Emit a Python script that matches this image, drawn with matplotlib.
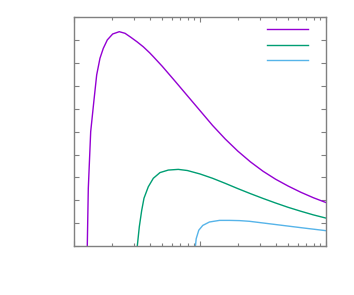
import matplotlib
matplotlib.use("Agg")
import matplotlib.pyplot as plt
from matplotlib.lines import Line2D
from matplotlib.ticker import LogLocator, NullFormatter, MultipleLocator

# Series (log x axis, 1..100; y 0..10)
x_purple = [1.275, 1.299, 1.357, 1.441, 1.514, 1.608, 1.708, 1.838, 2.028, 2.288,
            2.540, 2.818, 3.162, 3.548, 3.981, 4.260, 5.012, 6.310, 7.943, 10.0,
            12.59, 15.85, 19.95, 25.12, 31.62, 39.81, 50.12, 63.10, 79.43, 100.0]
y_purple = [0.0, 2.52, 5.0, 6.38, 7.48, 8.21, 8.64, 9.01, 9.27, 9.37,
            9.30, 9.13, 8.93, 8.71, 8.45, 8.28, 7.86, 7.22, 6.57, 5.92,
            5.27, 4.68, 4.15, 3.68, 3.27, 2.92, 2.62, 2.35, 2.11, 1.90]

x_green = [3.180, 3.299, 3.445, 3.594, 3.888, 4.260, 4.814, 5.603, 6.726, 7.943,
           10.0, 12.59, 15.85, 19.95, 25.12, 31.62, 39.81, 50.12, 63.10, 79.43, 100.0]
y_green = [0.0, 0.84, 1.55, 2.09, 2.59, 2.96, 3.21, 3.32, 3.35, 3.30,
           3.15, 2.96, 2.74, 2.51, 2.29, 2.08, 1.88, 1.69, 1.52, 1.36, 1.22]

x_blue = [9.2, 9.33, 9.78, 10.52, 11.89, 14.28, 17.15, 20.6, 24.7, 27.33,
          37.07, 50.2, 68.1, 100.0]
y_blue = [0.0, 0.32, 0.69, 0.90, 1.05, 1.12, 1.12, 1.11, 1.08, 1.05,
          0.96, 0.87, 0.78, 0.67]

series_colors = ["#9400D3", "#009E73", "#56B4E9"]
legend_labels = [" ", " ", " "]

fig = plt.figure(figsize=(3.54, 2.95), dpi=100)
ax = fig.add_axes([0.2090, 0.1661, 0.7119, 0.7753])

for xs, ys, c in zip([x_purple, x_green, x_blue], [y_purple, y_green, y_blue], series_colors):
    ax.plot(xs, ys, color=c, lw=1.0)

ax.set_xscale("log")
ax.set_xlim(1, 100)
ax.set_ylim(0, 10)
ax.xaxis.set_major_locator(LogLocator(base=10, numticks=10))
ax.xaxis.set_minor_locator(LogLocator(base=10, subs=range(2, 10), numticks=10))
ax.xaxis.set_major_formatter(NullFormatter())
ax.xaxis.set_minor_formatter(NullFormatter())
ax.yaxis.set_major_locator(MultipleLocator(1))
ax.yaxis.set_major_formatter(NullFormatter())

gray = "#808080"
for s in ax.spines.values():
    s.set_color(gray)
    s.set_linewidth(1.0)
ax.tick_params(which="both", direction="in", top=True, right=True, color=gray, width=0.8)
ax.tick_params(which="major", length=3.3)
ax.tick_params(which="minor", length=2.0)

handles = [Line2D([], [], color=c, lw=1.0) for c in series_colors]
ax.legend(handles, legend_labels, loc="upper left", bbox_to_anchor=(0.767, 0.975),
          frameon=False, borderpad=0, borderaxespad=0, handlelength=2.9,
          handletextpad=0.2, labelspacing=0.11, fontsize=10)

fig.savefig("out.png", dpi=100)
